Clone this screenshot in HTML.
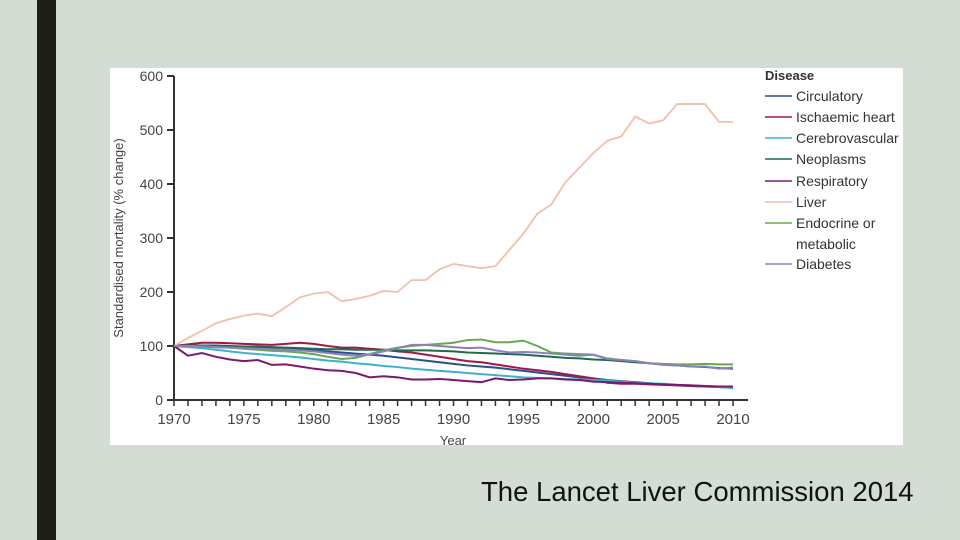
<!DOCTYPE html>
<html><head><meta charset="utf-8"><style>
body{margin:0;width:960px;height:540px;background:#d3ddd4;position:relative;overflow:hidden;font-family:"Liberation Sans",sans-serif}
#bar{position:absolute;left:37px;top:0;width:19px;height:540px;background:#1d1f17}
#chart{position:absolute;left:110px;top:68px}
#cap{position:absolute;left:481px;top:476px;font-size:27.5px;color:#111;white-space:nowrap}
</style></head><body>
<div id="bar"></div>
<svg id="chart" width="793" height="377" viewBox="110 68 793 377">
<rect x="110" y="68" width="793" height="377" fill="#fff"/>
<g id="axes" font-family="Liberation Sans, sans-serif" fill="#444"></g>
<g id="lines"></g>
<g id="legend" font-family="Liberation Sans, sans-serif" font-size="14" fill="#333"></g>
</svg>
<div id="cap">The Lancet Liver Commission 2014</div>
<script>
const years=[];for(let y=1970;y<=2010;y++)years.push(y);
const yTicks=[0,100,200,300,400,500,600];
const xTickLabels=[1970,1975,1980,1985,1990,1995,2000,2005,2010];
const seriesNames=["Circulatory","Ischaemic heart","Cerebrovascular","Neoplasms","Respiratory","Liver","Endocrine or metabolic","Diabetes"];
const circulatory=[100,100,99,98,97,96,96,95,95,94,92,90,88,86,84,82,79,76,73,70,67,64,62,60,57,54,51,48,45,42,40,37,35,33,31,29,27,26,25,24,23];
const ischaemic=[100,103,106,106,105,104,103,102,104,106,104,100,97,97,95,93,90,88,84,80,76,72,70,66,62,58,55,52,48,44,40,32,30,30,29,28,27,26,25,24,23];
const cerebro=[100,98,96,93,90,87,85,83,81,79,76,73,71,68,66,63,61,58,56,54,52,50,48,46,44,42,41,40,39,38,37,36,34,32,31,30,28,27,26,24,22];
const neoplasms=[100,101,101,101,100,99,99,98,97,96,95,94,94,93,93,93,92,92,92,91,90,88,87,86,85,84,82,80,78,77,75,74,72,70,68,66,64,62,61,59,58];
const respiratory=[100,82,87,80,75,72,74,65,66,62,58,55,54,50,42,44,42,38,38,39,37,35,33,40,37,38,40,40,38,37,34,33,32,31,30,29,28,27,26,25,25];
const liver=[100,115,128,142,150,156,160,155,172,190,197,200,183,187,193,202,200,222,222,242,252,248,244,248,278,308,345,362,403,430,457,480,488,525,512,518,548,548,548,515,515];
const endocrine=[100,100,99,98,97,95,93,91,90,88,85,80,76,78,85,92,97,100,102,104,106,111,112,107,107,110,100,88,86,85,84,77,74,72,68,67,66,66,67,66,66];
const diabetes=[100,100,99,98,97,96,95,94,93,92,90,87,84,82,84,90,96,102,102,100,98,96,97,92,88,89,88,86,84,82,84,76,74,72,68,65,64,62,62,58,60];
const colors=["#2a4e8f","#a0184a","#3bb3cc","#1f6b4a","#7a1a6e","#f2bfa8","#6aa84f","#8c7fc0"];
const data=[circulatory,ischaemic,cerebro,neoplasms,respiratory,liver,endocrine,diabetes];
const NS="http://www.w3.org/2000/svg";
const X=y=>174+(y-1970)*(733-174)/40, Y=v=>400-v*0.54;
function mk(t,a,p){const e=document.createElementNS(NS,t);for(const k in a)e.setAttribute(k,a[k]);p.appendChild(e);return e;}
const ax=document.getElementById('axes');
let l=mk('line',{x1:174,y1:76,x2:174,y2:400,stroke:'#333','stroke-width':2},ax);

l=mk('line',{x1:174,y1:400,x2:748,y2:400,stroke:'#333','stroke-width':2},ax);

yTicks.forEach(v=>{mk('line',{x1:167,x2:174,y1:Y(v),y2:Y(v),stroke:'#333','stroke-width':2},ax);
const t=mk('text',{x:163,y:Y(v)+5,'text-anchor':'end','font-size':14},ax);t.textContent=v;
});
years.forEach(y=>mk('line',{x1:X(y),x2:X(y),y1:400,y2:406,stroke:'#333','stroke-width':1.5},ax));
xTickLabels.forEach(y=>{const t=mk('text',{x:X(y),y:424,'text-anchor':'middle','font-size':15},ax);t.textContent=y;
});
let t=mk('text',{x:453,y:445,'text-anchor':'middle','font-size':13},ax);t.textContent='Year';

t=mk('text',{x:123,y:238,'text-anchor':'middle','font-size':13,transform:'rotate(-90 123 238)'},ax);t.textContent='Standardised mortality (% change)';

const lg=document.getElementById('lines');
data.forEach((s,i)=>{const p=mk('polyline',{points:s.map((v,j)=>X(years[j])+','+Y(v)).join(' '),fill:'none',stroke:colors[i],'stroke-width':i==5?1.8:2},lg);
});
const le=document.getElementById('legend');
t=mk('text',{x:765,y:80,'font-weight':'bold','font-size':13},le);t.textContent='Disease';

const ly=[96,117,138,159,181,202,223,264];
seriesNames.forEach((n,i)=>{mk('line',{x1:765,x2:792,y1:ly[i],y2:ly[i],stroke:colors[i],'stroke-width':1.5},le);
const g=mk('text',{x:796,y:ly[i]+5},le);
if(i==6){g.textContent='Endocrine or';const g2=mk('text',{x:796,y:ly[i]+26},le);g2.textContent='metabolic';
}
else g.textContent=n;
});
</script>
</body></html>
